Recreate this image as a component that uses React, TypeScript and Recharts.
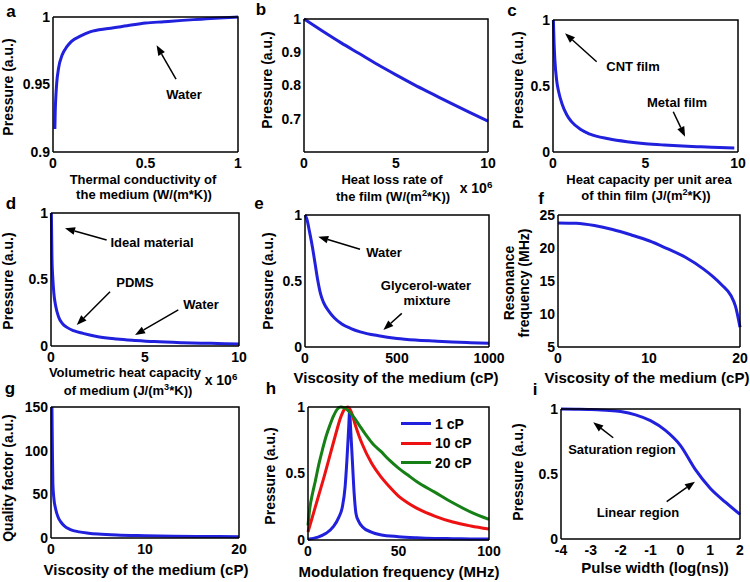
import React from 'react';
import { LineChart, Line, XAxis, YAxis, ReferenceLine, Legend } from 'recharts';

const FONT = '"Liberation Sans", Arial, Helvetica, sans-serif';
const BLUE = '#2020dd';
const RED = '#ee1111';
const GREEN = '#168016';

// ---------- data ----------
const aX = [0.01, 0.012, 0.015, 0.02, 0.03, 0.05, 0.075, 0.1, 0.15, 0.2, 0.3, 0.4, 0.5, 0.6, 0.7, 0.8, 0.9, 1.0];
const aY = [0.917, 0.93, 0.94, 0.951, 0.962, 0.972, 0.978, 0.982, 0.986, 0.989, 0.9915, 0.9935, 0.9955, 0.9965, 0.9975, 0.9984, 0.9993, 1.0];

const bX = [0, 1, 2, 3, 4, 5, 6, 7, 8, 9, 10];
const bY = [1, 0.964, 0.929, 0.896, 0.863, 0.832, 0.802, 0.774, 0.746, 0.719, 0.693];

const cX = [0.02, 0.06, 0.1, 0.2, 0.3, 0.5, 0.75, 1, 1.5, 2, 3, 4, 5, 6, 7, 8, 9, 9.8];
const cY = [1.0, 0.82, 0.7, 0.54, 0.46, 0.36, 0.28, 0.23, 0.17, 0.135, 0.1, 0.078, 0.063, 0.053, 0.045, 0.039, 0.034, 0.03];

const dX = [0.02, 0.05, 0.1, 0.15, 0.25, 0.4, 0.6, 0.85, 1.2, 1.7, 2.5, 3.5, 4.5, 5.5, 7, 8.5, 10];
const dY = [1, 0.67, 0.5, 0.4, 0.3, 0.22, 0.17, 0.14, 0.115, 0.095, 0.07, 0.053, 0.042, 0.033, 0.025, 0.02, 0.015];

const eX = [0, 10, 25, 40, 55, 70, 85, 100, 130, 160, 200, 250, 300, 400, 500, 600, 700, 800, 900, 1000];
const eY = [1, 0.97, 0.87, 0.76, 0.63, 0.5, 0.4, 0.34, 0.27, 0.22, 0.175, 0.14, 0.115, 0.085, 0.065, 0.053, 0.045, 0.038, 0.033, 0.028];

const fX = [0, 2, 4, 6, 8, 10, 12, 14, 16, 17, 18, 19, 19.5, 20];
const fY = [23.8, 23.75, 23.4, 22.8, 22.0, 21.1, 19.9, 18.6, 16.8, 15.7, 14.4, 12.8, 11.2, 8.0];

const gX = [0.1, 0.15, 0.2, 0.3, 0.5, 0.75, 1, 1.5, 2, 3, 4, 5, 7, 10, 13, 16, 20];
const gY = [150, 100, 62, 46, 33, 24, 19, 13, 10, 7, 5.5, 4.5, 3.3, 2.6, 2.1, 1.8, 1.5];

const h1X = [0, 5, 10, 14, 17, 19, 20.5, 21.5, 22.5, 23, 23.5, 24.5, 25.5, 26.5, 28, 30, 35, 40, 50, 60, 70, 80, 90, 100];
const h1Y = [0.005, 0.02, 0.05, 0.1, 0.17, 0.25, 0.4, 0.6, 0.85, 0.97, 0.85, 0.6, 0.35, 0.2, 0.14, 0.1, 0.06, 0.04, 0.025, 0.017, 0.012, 0.01, 0.008, 0.007];
const h10X = [0, 3, 6, 9, 12, 15, 18, 20, 22, 24, 26, 28, 30, 35, 40, 45, 50, 55, 60, 70, 80, 90, 100];
const h10Y = [0.06, 0.2, 0.34, 0.48, 0.63, 0.78, 0.92, 0.98, 1.0, 0.96, 0.87, 0.79, 0.72, 0.58, 0.48, 0.4, 0.33, 0.28, 0.24, 0.18, 0.135, 0.105, 0.082];
const h20X = [0, 1, 2.5, 4, 6, 8, 10, 12, 14, 16, 18, 20, 22, 25, 28, 32, 36, 40, 45, 50, 55, 60, 70, 80, 90, 100];
const h20Y = [0.11, 0.24, 0.35, 0.44, 0.57, 0.68, 0.78, 0.86, 0.93, 0.98, 1.0, 0.995, 0.975, 0.93, 0.87, 0.79, 0.72, 0.67, 0.6, 0.54, 0.49, 0.44, 0.36, 0.28, 0.21, 0.155];
const hNames = ['1 cP', '10 cP', '20 cP'];

const iX = [-4, -3.5, -3, -2.5, -2, -1.5, -1, -0.5, 0, 0.5, 1, 1.5, 2];
const iY = [1.0, 0.999, 0.997, 0.99, 0.98, 0.955, 0.91, 0.835, 0.72, 0.535, 0.39, 0.285, 0.19];

// ticks
const ticksA = { x: [0, 0.5, 1], y: [0.9, 0.95, 1] };
const ticksB = { x: [0, 5, 10], y: [0.7, 0.8, 0.9, 1] };
const ticksC = { x: [0, 5, 10], y: [0, 0.5, 1] };
const ticksD = { x: [0, 5, 10], y: [0, 0.5, 1] };
const ticksE = { x: [0, 500, 1000], y: [0, 0.5, 1] };
const ticksF = { x: [0, 10, 20], y: [5, 10, 15, 20, 25] };
const ticksG = { x: [0, 10, 20], y: [0, 50, 100, 150] };
const ticksH = { x: [0, 50, 100], y: [0, 0.5, 1] };
const ticksI = { x: [-4, -3, -2, -1, 0, 1, 2], y: [0, 0.5, 1] };

// annotation arrows (tail -> tip) in data units
const arrowsA = [[0.665, 0.954, 0.56, 0.979]];
const arrowsC = [[2.36, 0.684, 0.65, 0.899], [6.5, 0.305, 7.14, 0.116]];
const arrowsD = [[2.96, 0.797, 0.745, 0.885], [3.14, 0.408, 1.37, 0.158], [6.77, 0.271, 4.47, 0.083]];
const arrowsE = [[299, 0.74, 72, 0.836], [526, 0.255, 426, 0.129]];
const arrowsI = [[-2.25, 0.779, -2.92, 0.898], [-0.457, 0.287, 0.49, 0.441]];

// plot boxes (layout, page pixels): [left, top, right, bottom]
const BOXES = [
  [53, 17, 238, 152], [304, 19, 488, 152], [553, 20, 738, 152],
  [51, 213, 239, 346], [305, 215, 489, 347], [558, 215, 740, 347],
  [51, 407, 239, 538], [308, 407, 489, 540], [561, 409, 740, 539],
];

const toPts = (xs: number[], ys: number[]) => xs.map((x, i) => ({ x, y: ys[i] }));

const arrowShape = (p: any) => {
  const { x1, y1, x2, y2 } = p;
  const ang = Math.atan2(y2 - y1, x2 - x1);
  const len = 10;
  const w = 3.8;
  const bx = x2 - len * Math.cos(ang);
  const by = y2 - len * Math.sin(ang);
  const pts = `${x2},${y2} ${bx + w * Math.sin(ang)},${by - w * Math.cos(ang)} ${bx - w * Math.sin(ang)},${by + w * Math.cos(ang)}`;
  return (
    <g>
      <line x1={x1} y1={y1} x2={bx} y2={by} stroke="#000" strokeWidth={1.5} />
      <polygon points={pts} fill="#000" />
    </g>
  );
};

const tickStyle = { fill: '#000', fontSize: 14, fontWeight: 'bold' as const, fontFamily: FONT };

type Series = { data: { x: number; y: number }[]; color: string; name?: string };

function Panel(props: {
  box: number[];
  xDomain: number[];
  yDomain: number[];
  ticks: { x: number[]; y: number[] };
  series: Series[];
  arrows?: number[][];
  legend?: boolean;
}) {
  const [x0, y0, x1, y1] = props.box;
  const L = 60, T = 10, R = 25, B = 30;
  const fmt = (v: number) => String(v);
  return (
    <div style={{ position: 'absolute', left: x0 - L, top: y0 - T, width: x1 - x0 + L + R, height: y1 - y0 + T + B }}>
      <LineChart width={x1 - x0 + L + R} height={y1 - y0 + T + B} margin={{ top: T, right: R, left: 0, bottom: 0 }}>
        <XAxis type="number" dataKey="x" domain={props.xDomain} ticks={props.ticks.x} interval={0}
          height={B} tick={tickStyle} tickSize={-4} tickMargin={10} tickFormatter={fmt}
          axisLine={{ stroke: '#000', strokeWidth: 1.5 }} tickLine={false} />
        <YAxis type="number" dataKey="y" domain={props.yDomain} ticks={props.ticks.y} interval={0}
          width={L} tick={tickStyle} tickSize={-4} tickMargin={7} tickFormatter={fmt}
          axisLine={{ stroke: '#000', strokeWidth: 1.5 }} tickLine={false} />
        {props.series.map((s, i) => (
          <Line key={i} data={s.data} dataKey="y" name={s.name} type="monotone" stroke={s.color}
            strokeWidth={3} dot={false} isAnimationActive={false} />
        ))}
        {(props.arrows || []).map((a, i) => (
          <ReferenceLine key={'ar' + i} segment={[{ x: a[0], y: a[1] }, { x: a[2], y: a[3] }]}
            ifOverflow="visible" shape={arrowShape} />
        ))}
        {props.legend && (
          <Legend layout="horizontal" verticalAlign="middle" align="center"
            wrapperStyle={{ left: 153, top: 17, width: 'auto', height: 'auto' }}
            content={(lp: any) => (
              <div style={{ fontFamily: FONT, fontWeight: 'bold', fontSize: 14 }}>
                {(lp.payload || []).map((e: any, i: number) => (
                  <div key={i} style={{ display: 'flex', alignItems: 'center', height: 19.5 }}>
                    <span style={{ display: 'inline-block', width: 30, height: 3, background: e.color, marginRight: 4 }} />
                    <span>{e.value}</span>
                  </div>
                ))}
              </div>
            )} />
        )}
      </LineChart>
    </div>
  );
}

const Txt = (p: { x: number; y: number; size?: number; rot?: boolean; children: React.ReactNode }) => (
  <div style={{
    position: 'absolute', left: p.x, top: p.y,
    transform: `translate(-50%, -50%)${p.rot ? ' rotate(-90deg)' : ''}`,
    fontFamily: FONT, fontWeight: 'bold', fontSize: p.size || 13, lineHeight: 1.1,
    whiteSpace: 'nowrap', textAlign: 'center', color: '#000', zIndex: 5,
  }}>{p.children}</div>
);

const Sup = (p: { children: React.ReactNode }) => (
  <span style={{ fontSize: '0.7em', verticalAlign: 'super', lineHeight: 0 }}>{p.children}</span>
);

export default function App() {
  return (
    <div style={{ position: 'absolute', left: 0, top: 0, width: 750, height: 582, background: '#fff', overflow: 'hidden' }}>
      <Panel box={BOXES[0]} xDomain={[0, 1]} yDomain={[0.9, 1]} ticks={ticksA}
        series={[{ data: toPts(aX, aY), color: BLUE }]} arrows={arrowsA} />
      <Panel box={BOXES[1]} xDomain={[0, 10]} yDomain={[0.6, 1]} ticks={ticksB}
        series={[{ data: toPts(bX, bY), color: BLUE }]} />
      <Panel box={BOXES[2]} xDomain={[0, 10]} yDomain={[0, 1]} ticks={ticksC}
        series={[{ data: toPts(cX, cY), color: BLUE }]} arrows={arrowsC} />
      <Panel box={BOXES[3]} xDomain={[0, 10]} yDomain={[0, 1]} ticks={ticksD}
        series={[{ data: toPts(dX, dY), color: BLUE }]} arrows={arrowsD} />
      <Panel box={BOXES[4]} xDomain={[0, 1000]} yDomain={[0, 1]} ticks={ticksE}
        series={[{ data: toPts(eX, eY), color: BLUE }]} arrows={arrowsE} />
      <Panel box={BOXES[5]} xDomain={[0, 20]} yDomain={[5, 25]} ticks={ticksF}
        series={[{ data: toPts(fX, fY), color: BLUE }]} />
      <Panel box={BOXES[6]} xDomain={[0, 20]} yDomain={[0, 150]} ticks={ticksG}
        series={[{ data: toPts(gX, gY), color: BLUE }]} />
      <Panel box={BOXES[7]} xDomain={[0, 100]} yDomain={[0, 1]} ticks={ticksH} legend
        series={[
          { data: toPts(h1X, h1Y), color: BLUE, name: hNames[0] },
          { data: toPts(h10X, h10Y), color: RED, name: hNames[1] },
          { data: toPts(h20X, h20Y), color: GREEN, name: hNames[2] },
        ]} />
      <Panel box={BOXES[8]} xDomain={[-4, 2]} yDomain={[0, 1]} ticks={ticksI}
        series={[{ data: toPts(iX, iY), color: BLUE }]} arrows={arrowsI} />

      {/* plot frames (top and right edges) overlay */}
      <svg width={750} height={582} style={{ position: 'absolute', left: 0, top: 0, zIndex: 4, pointerEvents: 'none' }}>
        {BOXES.map((b, i) => (
          <polyline key={i} points={`${b[0]},${b[1]} ${b[2]},${b[1]} ${b[2]},${b[3]}`}
            fill="none" stroke="#000" strokeWidth={1.5} />
        ))}
      </svg>

      {/* panel letters */}
      <Txt x={11} y={12} size={17}>a</Txt>
      <Txt x={261} y={10} size={17}>b</Txt>
      <Txt x={512} y={11} size={17}>c</Txt>
      <Txt x={11} y={204} size={17}>d</Txt>
      <Txt x={259} y={204} size={17}>e</Txt>
      <Txt x={541} y={199} size={17}>f</Txt>
      <Txt x={10} y={389} size={17}>g</Txt>
      <Txt x={271} y={389} size={17}>h</Txt>
      <Txt x={535} y={390} size={17}>i</Txt>

      {/* y titles */}
      <Txt x={9} y={87} size={14} rot>Pressure (a.u.)</Txt>
      <Txt x={268} y={80} size={14} rot>Pressure (a.u.)</Txt>
      <Txt x={519} y={80} size={14} rot>Pressure (a.u.)</Txt>
      <Txt x={9} y={281} size={14} rot>Pressure (a.u.)</Txt>
      <Txt x={269} y={281} size={14} rot>Pressure (a.u.)</Txt>
      <Txt x={517} y={283} size={14} rot>Resonance<br />frequency (MHz)</Txt>
      <Txt x={9} y={478} size={14} rot>Quality factor (a.u.)</Txt>
      <Txt x={271} y={476} size={14} rot>Pressure (a.u.)</Txt>
      <Txt x={519} y={472} size={14} rot>Pressure (a.u.)</Txt>

      {/* x titles */}
      <Txt x={143} y={180}>Thermal conductivity of</Txt>
      <Txt x={144} y={195}>the medium (W/(m*K))</Txt>
      <Txt x={392} y={180}>Heat loss rate of</Txt>
      <Txt x={393} y={197}>the film (W/(m<Sup>2</Sup>*K))</Txt>
      <Txt x={476} y={189} size={14}>x 10<Sup>6</Sup></Txt>
      <Txt x={649} y={180}>Heat capacity per unit area</Txt>
      <Txt x={646} y={196}>of thin film (J/(m<Sup>2</Sup>*K))</Txt>
      <Txt x={125} y={373}>Volumetric heat capacity</Txt>
      <Txt x={128} y={391}>of medium (J/(m<Sup>3</Sup>*K))</Txt>
      <Txt x={221} y={381} size={14}>x 10<Sup>6</Sup></Txt>
      <Txt x={396} y={378} size={15}>Viscosity of the medium (cP)</Txt>
      <Txt x={647} y={378} size={15}>Viscosity of the medium (cP)</Txt>
      <Txt x={146} y={570} size={15}>Viscosity of the medium (cP)</Txt>
      <Txt x={399} y={572} size={15}>Modulation frequency (MHz)</Txt>
      <Txt x={655} y={568} size={15}>Pulse width (log(ns))</Txt>

      {/* annotations */}
      <Txt x={184} y={95}>Water</Txt>
      <Txt x={633} y={67}>CNT film</Txt>
      <Txt x={677} y={103}>Metal film</Txt>
      <Txt x={152} y={243}>Ideal material</Txt>
      <Txt x={135} y={283}>PDMS</Txt>
      <Txt x={201} y={305}>Water</Txt>
      <Txt x={384} y={253}>Water</Txt>
      <Txt x={426} y={286}>Glycerol-water</Txt>
      <Txt x={427} y={301}>mixture</Txt>
      <Txt x={622} y={450}>Saturation region</Txt>
      <Txt x={638} y={513}>Linear region</Txt>
    </div>
  );
}
